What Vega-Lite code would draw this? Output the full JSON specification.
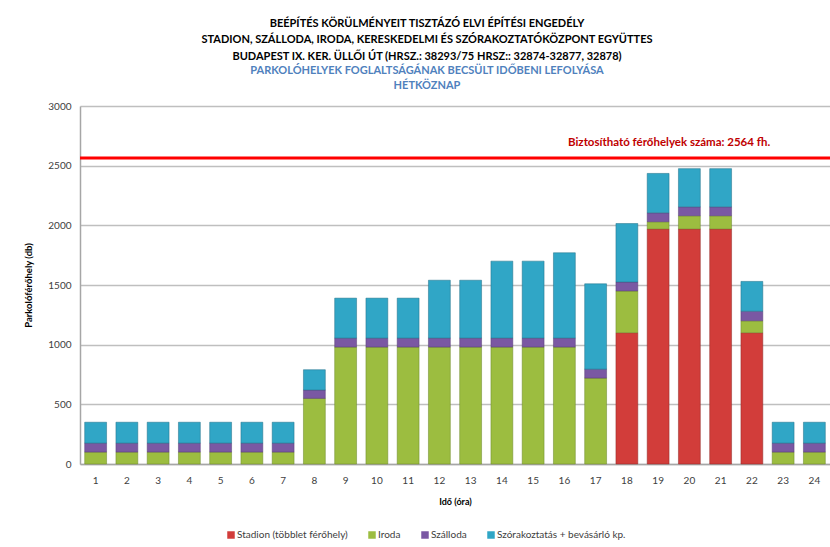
{
  "$schema": "https://vega.github.io/schema/vega-lite/v6.json",
  "width": 750,
  "height": 358,
  "autosize": {"type": "none"},
  "padding": {"left": 80, "top": 106, "right": 0, "bottom": 83},
  "background": "white",
  "config": {
    "font": "Lato",
    "view": {"stroke": null},
    "axis": {"labelFont": "Lato", "titleFont": "Lato"},
    "legend": {"labelFont": "Lato"}
  },
  "title": {
    "text": ["BEÉPÍTÉS KÖRÜLMÉNYEIT TISZTÁZÓ ELVI ÉPÍTÉSI ENGEDÉLY", "STADION, SZÁLLODA, IRODA, KERESKEDELMI ÉS SZÓRAKOZTATÓKÖZPONT EGYÜTTES", "BUDAPEST IX. KER. ÜLLŐI ÚT (HRSZ.: 38293/75  HRSZ:: 32874-32877,  32878)"],
    "subtitle": ["PARKOLÓHELYEK FOGLALTSÁGÁNAK BECSÜLT IDŐBENI LEFOLYÁSA", "HÉTKÖZNAP"],
    "anchor": "middle",
    "frame": "group",
    "dx": -28,
    "offset": 10,
    "font": "Lato",
    "fontSize": 11,
    "fontWeight": "bold",
    "color": "#000000",
    "lineHeight": 16.5,
    "subtitleFont": "Lato",
    "subtitleFontSize": 11,
    "subtitleFontWeight": "bold",
    "subtitleColor": "#4f81bd",
    "subtitleLineHeight": 15.5,
    "subtitlePadding": 3
  },
  "datasets": {
    "bars": [
      {"ora": 1, "kat": "Iroda", "db": 100}, {"ora": 1, "kat": "Szálloda", "db": 75}, {"ora": 1, "kat": "Szórakoztatás + bevásárló kp.", "db": 175},
      {"ora": 2, "kat": "Iroda", "db": 100}, {"ora": 2, "kat": "Szálloda", "db": 75}, {"ora": 2, "kat": "Szórakoztatás + bevásárló kp.", "db": 175},
      {"ora": 3, "kat": "Iroda", "db": 100}, {"ora": 3, "kat": "Szálloda", "db": 75}, {"ora": 3, "kat": "Szórakoztatás + bevásárló kp.", "db": 175},
      {"ora": 4, "kat": "Iroda", "db": 100}, {"ora": 4, "kat": "Szálloda", "db": 75}, {"ora": 4, "kat": "Szórakoztatás + bevásárló kp.", "db": 175},
      {"ora": 5, "kat": "Iroda", "db": 100}, {"ora": 5, "kat": "Szálloda", "db": 75}, {"ora": 5, "kat": "Szórakoztatás + bevásárló kp.", "db": 175},
      {"ora": 6, "kat": "Iroda", "db": 100}, {"ora": 6, "kat": "Szálloda", "db": 75}, {"ora": 6, "kat": "Szórakoztatás + bevásárló kp.", "db": 175},
      {"ora": 7, "kat": "Iroda", "db": 100}, {"ora": 7, "kat": "Szálloda", "db": 75}, {"ora": 7, "kat": "Szórakoztatás + bevásárló kp.", "db": 175},
      {"ora": 8, "kat": "Iroda", "db": 550}, {"ora": 8, "kat": "Szálloda", "db": 70}, {"ora": 8, "kat": "Szórakoztatás + bevásárló kp.", "db": 170},
      {"ora": 9, "kat": "Iroda", "db": 980}, {"ora": 9, "kat": "Szálloda", "db": 75}, {"ora": 9, "kat": "Szórakoztatás + bevásárló kp.", "db": 335},
      {"ora": 10, "kat": "Iroda", "db": 980}, {"ora": 10, "kat": "Szálloda", "db": 75}, {"ora": 10, "kat": "Szórakoztatás + bevásárló kp.", "db": 335},
      {"ora": 11, "kat": "Iroda", "db": 980}, {"ora": 11, "kat": "Szálloda", "db": 75}, {"ora": 11, "kat": "Szórakoztatás + bevásárló kp.", "db": 335},
      {"ora": 12, "kat": "Iroda", "db": 980}, {"ora": 12, "kat": "Szálloda", "db": 75}, {"ora": 12, "kat": "Szórakoztatás + bevásárló kp.", "db": 485},
      {"ora": 13, "kat": "Iroda", "db": 980}, {"ora": 13, "kat": "Szálloda", "db": 75}, {"ora": 13, "kat": "Szórakoztatás + bevásárló kp.", "db": 485},
      {"ora": 14, "kat": "Iroda", "db": 980}, {"ora": 14, "kat": "Szálloda", "db": 75}, {"ora": 14, "kat": "Szórakoztatás + bevásárló kp.", "db": 645},
      {"ora": 15, "kat": "Iroda", "db": 980}, {"ora": 15, "kat": "Szálloda", "db": 75}, {"ora": 15, "kat": "Szórakoztatás + bevásárló kp.", "db": 645},
      {"ora": 16, "kat": "Iroda", "db": 980}, {"ora": 16, "kat": "Szálloda", "db": 75}, {"ora": 16, "kat": "Szórakoztatás + bevásárló kp.", "db": 715},
      {"ora": 17, "kat": "Iroda", "db": 720}, {"ora": 17, "kat": "Szálloda", "db": 75}, {"ora": 17, "kat": "Szórakoztatás + bevásárló kp.", "db": 715},
      {"ora": 18, "kat": "Stadion (többlet férőhely)", "db": 1100}, {"ora": 18, "kat": "Iroda", "db": 350}, {"ora": 18, "kat": "Szálloda", "db": 75}, {"ora": 18, "kat": "Szórakoztatás + bevásárló kp.", "db": 490},
      {"ora": 19, "kat": "Stadion (többlet férőhely)", "db": 1970}, {"ora": 19, "kat": "Iroda", "db": 60}, {"ora": 19, "kat": "Szálloda", "db": 75}, {"ora": 19, "kat": "Szórakoztatás + bevásárló kp.", "db": 330},
      {"ora": 20, "kat": "Stadion (többlet férőhely)", "db": 1970}, {"ora": 20, "kat": "Iroda", "db": 110}, {"ora": 20, "kat": "Szálloda", "db": 75}, {"ora": 20, "kat": "Szórakoztatás + bevásárló kp.", "db": 320},
      {"ora": 21, "kat": "Stadion (többlet férőhely)", "db": 1970}, {"ora": 21, "kat": "Iroda", "db": 110}, {"ora": 21, "kat": "Szálloda", "db": 75}, {"ora": 21, "kat": "Szórakoztatás + bevásárló kp.", "db": 320},
      {"ora": 22, "kat": "Stadion (többlet férőhely)", "db": 1100}, {"ora": 22, "kat": "Iroda", "db": 100}, {"ora": 22, "kat": "Szálloda", "db": 80}, {"ora": 22, "kat": "Szórakoztatás + bevásárló kp.", "db": 250},
      {"ora": 23, "kat": "Iroda", "db": 100}, {"ora": 23, "kat": "Szálloda", "db": 75}, {"ora": 23, "kat": "Szórakoztatás + bevásárló kp.", "db": 175},
      {"ora": 24, "kat": "Iroda", "db": 100}, {"ora": 24, "kat": "Szálloda", "db": 75}, {"ora": 24, "kat": "Szórakoztatás + bevásárló kp.", "db": 175}
    ],
    "limit": [{"ora": 19, "db": 2564, "felirat": "Biztosítható férőhelyek száma: 2564 fh."}]
  },
  "layer": [
    {
      "data": {"name": "bars"},
      "transform": [
        {"calculate": "indexof(['Stadion (többlet férőhely)', 'Iroda', 'Szálloda', 'Szórakoztatás + bevásárló kp.'], datum.kat)", "as": "sorrend"}
      ],
      "mark": {"type": "bar", "strokeWidth": 1, "strokeOpacity": 0.5},
      "encoding": {
        "x": {
          "field": "ora", "type": "ordinal",
          "scale": {"paddingInner": 0.3, "paddingOuter": 0.15},
          "axis": {"title": "Idő (óra)", "labelAngle": 0, "labelFontSize": 10, "labelColor": "#404040", "labelPadding": 11, "ticks": false, "domainColor": "#a6a6a6", "domainWidth": 1.5, "titleFontSize": 9, "titleFontWeight": "bold", "titleColor": "#000000", "titlePadding": 12}
        },
        "y": {
          "field": "db", "type": "quantitative", "stack": "zero",
          "scale": {"domain": [0, 3000], "nice": false},
          "axis": {"title": "Parkolóférőhely (db)", "format": "d", "values": [0,500,1000,1500,2000,2500,3000], "labelFontSize": 10, "labelColor": "#404040", "labelPadding": 9, "ticks": false, "domainColor": "#a6a6a6", "domainWidth": 1.5, "gridColor": "#bfbfbf", "gridWidth": 1.5, "titleFontSize": 9.5, "titleFontWeight": "bold", "titleColor": "#000000", "titlePadding": 14}
        },
        "order": {"field": "sorrend", "type": "quantitative", "sort": "ascending"},
        "color": {
          "field": "kat", "type": "nominal",
          "scale": {"domain": ["Stadion (többlet férőhely)", "Iroda", "Szálloda", "Szórakoztatás + bevásárló kp."], "range": ["#d23d3a", "#9cbd40", "#7a58a3", "#30a6c6"]},
          "legend": {"title": null, "orient": "none", "legendX": 146, "legendY": 424, "direction": "horizontal", "symbolType": "square", "symbolSize": 56, "symbolStrokeWidth": 0, "labelFontSize": 10, "labelColor": "#404040", "columnPadding": 19, "labelOffset": 1}
        },
        "stroke": {
          "field": "kat", "type": "nominal",
          "scale": {"domain": ["Stadion (többlet férőhely)", "Iroda", "Szálloda", "Szórakoztatás + bevásárló kp."], "range": ["#8f2a28", "#6b8a2a", "#553c75", "#1f7088"]},
          "legend": null
        }
      }
    },
    {
      "data": {"name": "limit"},
      "mark": {"type": "rule", "color": "#ff0000", "strokeWidth": 3},
      "encoding": {"y": {"field": "db", "type": "quantitative"}}
    },
    {
      "data": {"name": "limit"},
      "mark": {"type": "text", "color": "#c00000", "fontWeight": "bold", "fontSize": 11.5, "align": "center", "dy": -15, "font": "Lato"},
      "encoding": {
        "x": {"field": "ora", "type": "ordinal", "bandPosition": 1},
        "y": {"field": "db", "type": "quantitative"},
        "text": {"field": "felirat"}
      }
    }
  ]
}
